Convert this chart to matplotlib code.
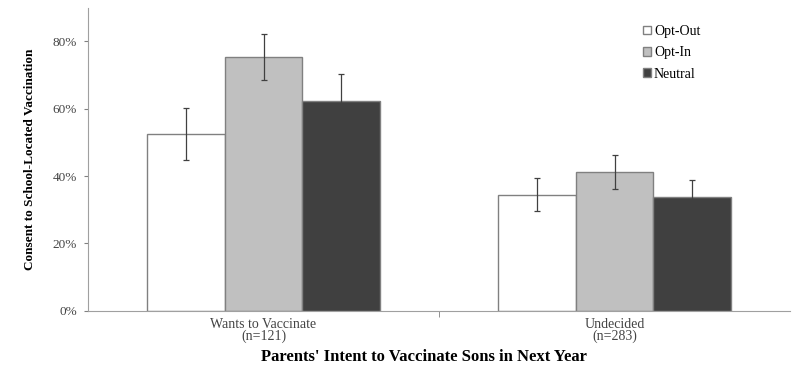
import numpy as np
import matplotlib
matplotlib.use('Agg')
import matplotlib.pyplot as plt
from matplotlib.ticker import FuncFormatter

# 数据
categories = ['Wants to Vaccinate\n(n=121)', 'Undecided\n(n=283)']
series = ['Opt-Out', 'Opt-In', 'Neutral']
colors = ['#ffffff', '#c0c0c0', '#404040']
opt_out = [52.5, 34.5]
opt_in = [75.3, 41.2]
neutral = [62.2, 33.8]
opt_out_err = [7.6, 4.8]
opt_in_err = [6.8, 5.0]
neutral_err = [8.1, 4.9]

plt.rcParams['font.family'] = ['Liberation Serif', 'DejaVu Serif']

fig = plt.figure(figsize=(8, 3.73), dpi=100)
ax = fig.add_axes([0.11, 0.167, 0.8775, 0.812])

x = np.arange(len(categories))
w = 0.222
values = [opt_out, opt_in, neutral]
errors = [opt_out_err, opt_in_err, neutral_err]
for i in range(3):
    ax.bar(x + (i - 1) * w, values[i], w, color=colors[i], edgecolor='#808080',
           linewidth=1.0, label=series[i], yerr=errors[i],
           error_kw=dict(ecolor='#404040', elinewidth=0.9, capsize=2.5, capthick=0.9))

ax.set_xlim(-0.5, 1.5)
ax.set_ylim(0, 90)
ax.set_yticks([0, 20, 40, 60, 80])
ax.yaxis.set_major_formatter(FuncFormatter(lambda v, p: '%d%%' % v))
ax.set_xticks(x)
ax.set_xticklabels(categories, fontsize=10, color='#444444', linespacing=0.9)
ax.set_xticks([0.5], minor=True)
ax.tick_params(axis='x', which='major', length=0, pad=5)
ax.tick_params(axis='x', which='minor', length=4, color='#808080')
ax.tick_params(axis='y', length=3, color='#808080', labelsize=9.5, labelcolor='#444444', pad=5)

for s in ['top', 'right']:
    ax.spines[s].set_visible(False)
for s in ['left', 'bottom']:
    ax.spines[s].set_color('#a0a0a0')

ax.set_ylabel('Consent to School-Located Vaccination', fontsize=9.5, fontweight='bold', labelpad=12)
ax.set_xlabel("Parents' Intent to Vaccinate Sons in Next Year", fontsize=12, fontweight='bold', labelpad=5)
ax.xaxis.set_label_coords(0.479, -0.125)

ax.legend(loc='upper right', bbox_to_anchor=(0.89, 0.985), frameon=False, fontsize=10,
          handlelength=0.6, handleheight=0.6, handletextpad=0.2, labelspacing=0.6)

fig.savefig('out.png', dpi=100)
